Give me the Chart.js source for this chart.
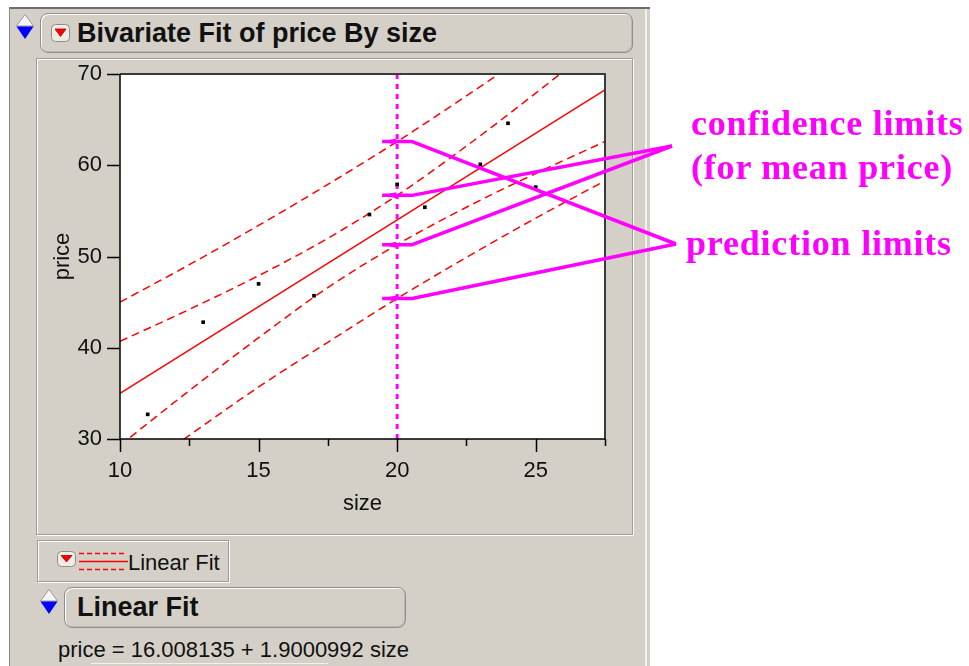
<!DOCTYPE html>
<html>
<head>
<meta charset="utf-8">
<title>Bivariate Fit of price By size</title>
<script src="https://cdn.jsdelivr.net/npm/chart.js@4/dist/chart.umd.min.js"></script>
<style>
  html, body { margin: 0; padding: 0; background: #ffffff; }
  body { width: 969px; height: 666px; position: relative; overflow: hidden;
         font-family: "Liberation Sans", Arial, sans-serif; color: #111; }
  .abs { position: absolute; box-sizing: border-box; }
  #win { left: 9px; top: 7px; width: 641px; height: 659px; background: #D4D0C8;
         border-top: 2px solid #6e6e6e; border-left: 1px solid #8c8c8c; }
  #winEdge { left: 645px; top: 9px; width: 2px; height: 657px; background: #f2f1ec; }
  .hdr { background: #D4D0C8; border: 1px solid #8f8f8f; border-radius: 8px;
         box-shadow: inset 1px 1px 0 #ffffff, inset -1px -1px 0 #bdb9b1; }
  #hdr1 { left: 40px; top: 13px; width: 593px; height: 40px; }
  #title1 { left: 77px; top: 13px; height: 40px; line-height: 40px; font-weight: bold; font-size: 27px; white-space: nowrap; }
  #frame { left: 36px; top: 58px; width: 597px; height: 477px; border: 1px solid #9c9c9c;
           box-shadow: 1px 1px 0 #ffffff, inset 1px 1px 0 #ffffff; }
  #legBox { left: 37px; top: 540px; width: 192px; height: 42px; border: 1px solid #9c9c9c;
            box-shadow: 1px 1px 0 #ffffff, inset 1px 1px 0 #ffffff; }
  #legText { left: 128px; top: 550px; height: 26px; line-height: 26px; font-size: 22px; white-space: nowrap; }
  #hdr2 { left: 64px; top: 587px; width: 342px; height: 41px; }
  #title2 { left: 77px; top: 587px; height: 41px; line-height: 41px; font-weight: bold; font-size: 27px; white-space: nowrap; }
  #eq { left: 58px; top: 637px; height: 26px; line-height: 26px; font-size: 22px; white-space: nowrap; }
  #nextRow { left: 91px; top: 663px; width: 237px; height: 1px; background: #f2f1ec; }
  .note { color: #ff00ff; font-family: "Liberation Serif", "Times New Roman", serif; font-weight: bold;
          font-size: 36px; letter-spacing: 0.8px; white-space: nowrap; line-height: 44px; z-index: 3; }
  #noteConf { left: 691px; top: 101px; }
  #notePred { left: 686px; top: 221px; }
  #c { position: absolute; left: 0; top: 0; z-index: 2; }
</style>
</head>
<body>
<div class="abs" id="win"></div>
<div class="abs" id="winEdge"></div>

<svg class="abs" style="left:16px;top:14px" width="18" height="26">
  <polygon points="9,0.5 17.5,12 0.5,12" fill="#f6f6f6" stroke="#9a9a9a" stroke-width="1"/>
  <polygon points="0.5,12.5 17.5,12.5 9,25" fill="#0000ff"/>
</svg>
<div class="abs hdr" id="hdr1"></div>
<svg class="abs" style="left:51px;top:24px" width="20" height="19">
  <rect x="0.5" y="0.5" width="18" height="17" rx="4" fill="#efece6" stroke="#8c8c8c"/>
  <polygon points="4,5 15,5 9.5,12.5" fill="#ff0000" stroke="#b00000" stroke-width="0.8"/>
</svg>
<div class="abs" id="title1">Bivariate Fit of price By size</div>

<div class="abs" id="frame"></div>

<div class="abs" id="legBox"></div>
<svg class="abs" style="left:57px;top:551px" width="72" height="22">
  <rect x="0.5" y="0.5" width="18" height="15" rx="4" fill="#efece6" stroke="#8c8c8c"/>
  <polygon points="4,4.5 15,4.5 9.5,11" fill="#ff0000" stroke="#b00000" stroke-width="0.8"/>
  <line x1="22" y1="2.5" x2="67" y2="2.5" stroke="#ff0000" stroke-width="1.5" stroke-dasharray="5,3"/>
  <line x1="22" y1="10.5" x2="71" y2="10.5" stroke="#ff0000" stroke-width="1.5"/>
  <line x1="22" y1="18.5" x2="67" y2="18.5" stroke="#ff0000" stroke-width="1.5" stroke-dasharray="5,3"/>
</svg>
<div class="abs" id="legText">Linear Fit</div>

<svg class="abs" style="left:40px;top:589px" width="18" height="26">
  <polygon points="9,0.5 17.5,12 0.5,12" fill="#f6f6f6" stroke="#9a9a9a" stroke-width="1"/>
  <polygon points="0.5,12.5 17.5,12.5 9,25" fill="#0000ff"/>
</svg>
<div class="abs hdr" id="hdr2"></div>
<div class="abs" id="title2">Linear Fit</div>
<div class="abs" id="eq"></div>
<div class="abs" id="nextRow"></div>

<div class="abs note" id="noteConf">confidence limits<br>(for mean price)</div>
<div class="abs note" id="notePred">prediction limits</div>

<canvas id="c" width="969" height="666"></canvas>

<script>
// Observations: house size and price
const sizes  = [11, 13, 15, 17, 19, 20, 21, 23, 24, 25];
const prices = [32.7, 42.8, 47.0, 45.7, 54.6, 57.9, 55.4, 60.1, 64.6, 57.6];

// Least-squares line as reported in the Linear Fit report
const fitIntercept = 16.008135;
const fitSlope = 1.9000992;
const fitRange = [10, 27.5];

// 95% limits read along the size axis
const bandSizes  = [10, 12.5, 15, 17.5, 20, 22.5, 25, 27.5];
const confLower  = [29.3, 35.3, 41.1, 46.6, 51.3, 55.4, 59.1, 62.6];
const confUpper  = [40.7, 44.2, 47.9, 52.0, 56.7, 62.1, 67.9, 73.9];
const predLower  = [25.0, 30.4, 35.7, 40.6, 45.4, 49.9, 54.2, 58.3];
const predUpper  = [45.0, 49.1, 53.4, 57.9, 62.6, 67.6, 72.8, 78.2];

// Size where the limits are inspected
const markSize = 20;

// Axis ranges and ticks
const xRange = [10, 27.5];
const xStep = 2.5;
const xLabelEvery = 5;
const yRange = [30, 70];
const yStep = 10;

document.getElementById('eq').textContent =
  'price = ' + fitIntercept + ' + ' + fitSlope + ' size';

const FONT = '"Liberation Sans", Arial, sans-serif';
const RED = '#ff0000';
const MAGENTA = '#ff00ff';

const toPts = (xs, ys) => xs.map((x, i) => ({ x: x, y: ys[i] }));
const bandStyle = {
  type: 'line', borderColor: RED, borderWidth: 1.5, borderDash: [8, 5],
  pointRadius: 0, fill: false, cubicInterpolationMode: 'monotone', order: 3
};

// Panel furniture: white plot background, axis frame, tick marks and call-out arrows
const panel = {
  id: 'panel',
  beforeDraw(chart) {
    const a = chart.chartArea, c = chart.ctx;
    c.save();
    c.fillStyle = '#ffffff';
    c.fillRect(a.left, a.top, a.right - a.left, a.bottom - a.top);
    c.restore();
  },
  afterDraw(chart) {
    const a = chart.chartArea, c = chart.ctx;
    const xs = chart.scales.x, ys = chart.scales.y;
    c.save();
    // frame: top / right darker grey, left / bottom axes black
    c.strokeStyle = '#3a3a3a';
    c.lineWidth = 2;
    c.beginPath();
    c.moveTo(a.left, a.top); c.lineTo(a.right, a.top); c.lineTo(a.right, a.bottom);
    c.stroke();
    c.strokeStyle = '#000000';
    c.lineWidth = 1.5;
    c.beginPath();
    c.moveTo(a.left, a.top); c.lineTo(a.left, a.bottom); c.lineTo(a.right, a.bottom);
    c.stroke();
    // tick marks
    c.lineWidth = 1.5;
    c.beginPath();
    xs.ticks.forEach(t => {
      const px = Math.round(xs.getPixelForValue(t.value)) + 0.5;
      const major = Math.abs(t.value % xLabelEvery) < 1e-9;
      c.moveTo(px, a.bottom);
      c.lineTo(px, a.bottom + (major ? 13 : 7));
    });
    ys.ticks.forEach(t => {
      const py = Math.round(ys.getPixelForValue(t.value)) + 0.5;
      c.moveTo(a.left - 13, py);
      c.lineTo(a.left, py);
    });
    c.stroke();

    // call-out arrows pointing at the limits at size = markSize
    const k = bandSizes.indexOf(markSize);
    const tipX = xs.getPixelForValue(markSize) - 15;
    const confTail = { x: 672, y: 146 };
    const predTail = { x: 676, y: 244 };
    const arrows = [
      [confTail, confUpper[k]], [confTail, confLower[k]],
      [predTail, predUpper[k]], [predTail, predLower[k]]
    ];
    c.strokeStyle = MAGENTA;
    c.fillStyle = MAGENTA;
    c.lineWidth = 3.5;
    c.lineJoin = 'round';
    c.lineCap = 'butt';
    arrows.forEach(([tail, v]) => {
      const ty = ys.getPixelForValue(v);
      c.beginPath();
      c.moveTo(tail.x, tail.y);
      c.lineTo(tipX + 30, ty);
      c.lineTo(tipX, ty);
      c.stroke();
      c.beginPath();
      c.moveTo(tipX, ty);
      c.lineTo(tipX + 14, ty - 3);
      c.lineTo(tipX + 14, ty + 3);
      c.closePath();
      c.fill();
    });
    c.restore();
  }
};

new Chart(document.getElementById('c'), {
  type: 'scatter',
  data: {
    datasets: [
      { label: 'price', data: toPts(sizes, prices), pointStyle: 'rect', pointRadius: 2.6,
        backgroundColor: '#000000', borderColor: '#000000', borderWidth: 0, order: 0 },
      { label: 'size = 20', type: 'line', data: [{ x: markSize, y: yRange[0] }, { x: markSize, y: yRange[1] }],
        borderColor: MAGENTA, borderWidth: 3, borderDash: [5, 5], pointRadius: 0, order: 1 },
      { label: 'Linear Fit', type: 'line',
        data: fitRange.map(x => ({ x: x, y: fitIntercept + fitSlope * x })),
        borderColor: RED, borderWidth: 1.5, pointRadius: 0, order: 2 },
      Object.assign({ label: 'Upper 95% Mean', data: toPts(bandSizes, confUpper) }, bandStyle),
      Object.assign({ label: 'Lower 95% Mean', data: toPts(bandSizes, confLower) }, bandStyle),
      Object.assign({ label: 'Upper 95% Indiv', data: toPts(bandSizes, predUpper) }, bandStyle),
      Object.assign({ label: 'Lower 95% Indiv', data: toPts(bandSizes, predLower) }, bandStyle)
    ]
  },
  options: {
    responsive: false,
    animation: false,
    devicePixelRatio: 1,
    layout: { padding: { left: 50, top: 74, right: 364, bottom: 146 } },
    plugins: { legend: { display: false }, tooltip: { enabled: false } },
    scales: {
      x: {
        type: 'linear', min: xRange[0], max: xRange[1],
        ticks: {
          stepSize: xStep, autoSkip: false, maxRotation: 0, padding: 6, color: '#111',
          font: { family: FONT, size: 22 },
          callback: v => (Math.abs(v % xLabelEvery) < 1e-9 ? String(v) : '')
        },
        grid: { display: true, drawOnChartArea: false, drawTicks: true, tickLength: 13, color: 'rgba(0,0,0,0)' },
        border: { display: false },
        title: { display: true, text: 'size', color: '#111', font: { family: FONT, size: 22 },
                 padding: { top: 0, bottom: 3 } },
        afterFit: s => { s.height = 81; }
      },
      y: {
        type: 'linear', min: yRange[0], max: yRange[1],
        ticks: { stepSize: yStep, padding: 5, color: '#111', font: { family: FONT, size: 22 } },
        grid: { display: true, drawOnChartArea: false, drawTicks: true, tickLength: 13, color: 'rgba(0,0,0,0)' },
        border: { display: false },
        title: { display: true, text: 'price', color: '#111', font: { family: FONT, size: 22 },
                 padding: { top: 0, bottom: 0 } },
        afterFit: s => { s.width = 70; }
      }
    }
  },
  plugins: [panel]
});
</script>
</body>
</html>
